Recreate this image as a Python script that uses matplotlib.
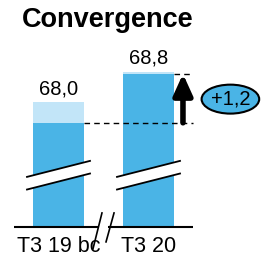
import matplotlib
matplotlib.use("Agg")
import matplotlib.pyplot as plt
from matplotlib.patches import Ellipse, Polygon

plt.rcParams['font.family'] = ['Liberation Sans', 'DejaVu Sans']

# data
categories = ["T3 19 bc", "T3 20"]
value_labels = ["68,0", "68,8"]
dark_values = [67.6, 68.8]     # solid part of the bars
light_values = [68.1, 68.85]   # pale cap on top
delta_label = "+1,2"

base = 65.05                    # where the (broken) axis starts
dark_blue = "#4AB4E6"
light_blue = "#C2E5F8"

fig = plt.figure(figsize=(2.61, 2.57), dpi=100)
ax = fig.add_axes([0, 0, 1, 1])
ax.set_xlim(-0.65, 2.25)
ax.set_ylim(64.31, 70.61)
ax.axis("off")

x = list(range(len(categories)))
w = 0.56

# bars: light cap then dark body
ax.bar(x, [v - base for v in light_values], bottom=base, width=w, color=light_blue, zorder=1)
ax.bar(x, [v - base for v in dark_values], bottom=base, width=w, color=dark_blue, zorder=2)

# break marks on bars
for c in x:
    lo, hi = 66.16, 66.47
    s = 0.196
    poly = Polygon([(c - 0.35, lo - s), (c + 0.35, lo + s), (c + 0.35, hi + s), (c - 0.35, hi - s)],
                   closed=True, facecolor="white", edgecolor="none", zorder=3)
    ax.add_patch(poly)
    ax.plot([c - 0.35, c + 0.35], [lo - s, lo + s], color="black", lw=1.3, zorder=4)
    ax.plot([c - 0.35, c + 0.35], [hi - s, hi + s], color="black", lw=1.3, zorder=4)

# baseline with axis break
ax.plot([-0.494, 0.44], [base, base], color="black", lw=1.5, solid_capstyle="butt")
ax.plot([0.55, 1.494], [base, base], color="black", lw=1.5, solid_capstyle="butt")
ax.plot([0.383, 0.483], [64.51, 65.39], color="black", lw=1.2)
ax.plot([0.528, 0.617], [64.68, 65.39], color="black", lw=1.2)

# category labels
for c, lab in zip(x, categories):
    ax.text(c, 64.56, lab, ha="center", va="center", fontsize=15.5)

# value labels
for c, v, lab in zip(x, light_values, value_labels):
    ax.annotate(lab, (c, v), xytext=(0, 6), textcoords="offset points",
                ha="center", va="baseline", fontsize=14.5)

# dashed reference lines
x_end = 1.494
ax.plot([w / 2, x_end], [dark_values[0], dark_values[0]], color="black", lw=1, ls=(0, (4, 3)))
ax.plot([1 + w / 2, x_end], [dark_values[1], dark_values[1]], color="black", lw=1, ls=(0, (4, 3)))

# arrow for the change
ax.annotate("", xy=(1.383, dark_values[1]), xytext=(1.383, dark_values[0]),
            arrowprops=dict(arrowstyle="-|>,head_length=0.42,head_width=0.19", lw=4,
                            color="black", mutation_scale=30, shrinkA=0, shrinkB=0))

# bubble with the delta
ax.add_patch(Ellipse((1.91, 68.18), 0.64, 0.71, facecolor=dark_blue, edgecolor="black", lw=1.5))
ax.text(1.91, 68.18, delta_label, ha="center", va="center", fontsize=14.5)

fig.text(22 / 261, 1 - 27 / 257, "Convergence", fontsize=19.5, fontweight="bold", va="baseline")

fig.savefig("out.png", dpi=100)
